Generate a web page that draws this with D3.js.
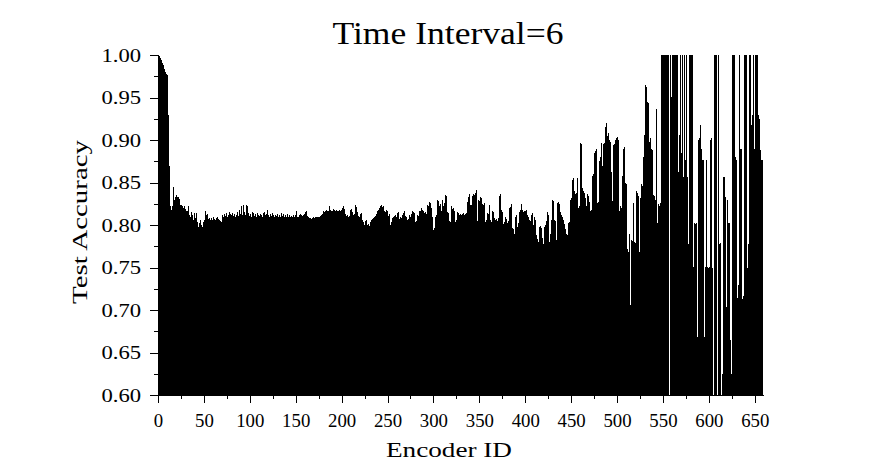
<!DOCTYPE html>
<html>
<head>
<meta charset="utf-8">
<script src="https://cdn.jsdelivr.net/npm/d3@7"></script>
<style>
  html, body { margin: 0; padding: 0; background: #fff; }
  svg { display: block; }
  text { font-family: "Liberation Serif", "DejaVu Serif", serif; fill: #000; }
</style>
</head>
<body>
<svg id="chart" width="886" height="473"></svg>
<script>
// ---- data ----
const chartTitle = "Time Interval=6";
const xLabel = "Encoder ID";
const yLabel = "Test Accuracy";
const xTicks = [0, 50, 100, 150, 200, 250, 300, 350, 400, 450, 500, 550, 600, 650];
const yTicks = [0.60, 0.65, 0.70, 0.75, 0.80, 0.85, 0.90, 0.95, 1.00];
const encoderCount = 659;
// test accuracy per encoder (Encoder ID 0..658)
const testAccuracy = [
  1.000, 0.999, 0.997, 0.994, 0.991, 0.988, 0.985, 0.983, 0.980, 0.978,
  0.976, 0.930, 0.870, 0.822, 0.818, 0.822, 0.845, 0.829, 0.835, 0.833,
  0.835, 0.833, 0.833, 0.831, 0.823, 0.823, 0.822, 0.820, 0.822, 0.819,
  0.814, 0.816, 0.816, 0.822, 0.812, 0.810, 0.815, 0.812, 0.806, 0.814,
  0.808, 0.814, 0.806, 0.804, 0.798, 0.802, 0.806, 0.800, 0.798, 0.803,
  0.806, 0.817, 0.812, 0.813, 0.809, 0.807, 0.808, 0.806, 0.808, 0.806,
  0.809, 0.807, 0.806, 0.808, 0.809, 0.807, 0.806, 0.808, 0.805, 0.803,
  0.812, 0.810, 0.813, 0.811, 0.814, 0.810, 0.812, 0.815, 0.813, 0.811,
  0.812, 0.814, 0.811, 0.813, 0.810, 0.812, 0.815, 0.811, 0.818, 0.813,
  0.822, 0.816, 0.812, 0.823, 0.815, 0.812, 0.823, 0.822, 0.814, 0.811,
  0.813, 0.810, 0.815, 0.812, 0.814, 0.811, 0.813, 0.810, 0.814, 0.812,
  0.811, 0.813, 0.812, 0.810, 0.814, 0.826, 0.815, 0.812, 0.813, 0.818,
  0.812, 0.810, 0.813, 0.811, 0.814, 0.812, 0.810, 0.812, 0.813, 0.811,
  0.813, 0.809, 0.812, 0.810, 0.814, 0.811, 0.813, 0.810, 0.812, 0.809,
  0.811, 0.813, 0.810, 0.812, 0.810, 0.811, 0.809, 0.812, 0.810, 0.812,
  0.816, 0.810, 0.811, 0.809, 0.812, 0.813, 0.812, 0.811, 0.812, 0.813,
  0.815, 0.816, 0.811, 0.810, 0.810, 0.808, 0.808, 0.807, 0.808, 0.809,
  0.808, 0.810, 0.809, 0.810, 0.810, 0.809, 0.812, 0.811, 0.812, 0.813,
  0.816, 0.815, 0.817, 0.818, 0.816, 0.817, 0.822, 0.818, 0.817, 0.818,
  0.817, 0.819, 0.818, 0.817, 0.818, 0.816, 0.817, 0.818, 0.817, 0.818,
  0.820, 0.823, 0.822, 0.819, 0.813, 0.811, 0.812, 0.810, 0.811, 0.818,
  0.819, 0.815, 0.812, 0.810, 0.813, 0.823, 0.821, 0.815, 0.811, 0.810,
  0.813, 0.814, 0.806, 0.804, 0.800, 0.801, 0.805, 0.806, 0.800, 0.801,
  0.799, 0.804, 0.806, 0.807, 0.808, 0.810, 0.811, 0.812, 0.813, 0.816,
  0.818, 0.820, 0.822, 0.823, 0.821, 0.822, 0.816, 0.815, 0.818, 0.817,
  0.812, 0.811, 0.813, 0.800, 0.803, 0.808, 0.810, 0.811, 0.812, 0.810,
  0.814, 0.815, 0.806, 0.807, 0.809, 0.808, 0.812, 0.814, 0.816, 0.811,
  0.810, 0.806, 0.807, 0.812, 0.811, 0.810, 0.813, 0.816, 0.815, 0.814,
  0.804, 0.805, 0.812, 0.811, 0.817, 0.816, 0.819, 0.820, 0.818, 0.816,
  0.814, 0.815, 0.813, 0.823, 0.822, 0.827, 0.826, 0.820, 0.819, 0.810,
  0.794, 0.796, 0.810, 0.812, 0.829, 0.828, 0.822, 0.825, 0.816, 0.829,
  0.822, 0.824, 0.826, 0.835, 0.834, 0.815, 0.814, 0.805, 0.804, 0.822,
  0.819, 0.820, 0.817, 0.815, 0.804, 0.806, 0.815, 0.814, 0.812, 0.813,
  0.812, 0.813, 0.814, 0.812, 0.813, 0.815, 0.814, 0.827, 0.833, 0.837,
  0.823, 0.824, 0.834, 0.836, 0.835, 0.838, 0.841, 0.808, 0.805, 0.829,
  0.828, 0.833, 0.832, 0.825, 0.824, 0.826, 0.804, 0.806, 0.814, 0.813,
  0.822, 0.823, 0.806, 0.804, 0.817, 0.815, 0.808, 0.806, 0.807, 0.805,
  0.808, 0.834, 0.841, 0.836, 0.818, 0.815, 0.801, 0.803, 0.810, 0.807,
  0.802, 0.805, 0.820, 0.821, 0.824, 0.825, 0.797, 0.795, 0.790, 0.810,
  0.812, 0.798, 0.802, 0.815, 0.818, 0.825, 0.822, 0.818, 0.815, 0.816,
  0.817, 0.818, 0.812, 0.810, 0.806, 0.805, 0.812, 0.814, 0.797, 0.800,
  0.810, 0.806, 0.788, 0.784, 0.780, 0.798, 0.799, 0.797, 0.785, 0.778,
  0.798, 0.799, 0.800, 0.805, 0.815, 0.812, 0.780, 0.790, 0.806, 0.829,
  0.828, 0.806, 0.805, 0.783, 0.782, 0.826, 0.827, 0.825, 0.815, 0.812,
  0.810, 0.806, 0.801, 0.795, 0.790, 0.786, 0.788, 0.802, 0.803, 0.830,
  0.832, 0.853, 0.855, 0.840, 0.837, 0.838, 0.855, 0.852, 0.820, 0.822,
  0.896, 0.895, 0.843, 0.840, 0.838, 0.832, 0.822, 0.836, 0.834, 0.829,
  0.827, 0.816, 0.818, 0.858, 0.860, 0.885, 0.887, 0.890, 0.826, 0.827,
  0.875, 0.880, 0.878, 0.896, 0.870, 0.895, 0.897, 0.915, 0.920, 0.905,
  0.908, 0.900, 0.898, 0.862, 0.830, 0.828, 0.894, 0.895, 0.900, 0.902,
  0.903, 0.900, 0.816, 0.822, 0.820, 0.858, 0.862, 0.890, 0.892, 0.850,
  0.848, 0.772, 0.768, 0.790, 0.706, 0.782, 0.781, 0.826, 0.825, 0.780,
  0.779, 0.840, 0.838, 0.834, 0.768, 0.832, 0.848, 0.846, 0.880, 0.906,
  0.908, 0.965, 0.962, 0.945, 0.943, 0.898, 0.902, 0.890, 0.888, 0.835,
  0.834, 0.830, 0.937, 0.935, 0.802, 0.825, 0.822, 0.826, 1.000, 1.000,
  1.000, 1.000, 1.000, 1.000, 1.000, 1.000, 1.000, 0.600, 1.000, 0.951,
  1.000, 1.000, 1.000, 1.000, 1.000, 1.000, 0.862, 0.848, 0.906, 1.000,
  0.885, 1.000, 0.856, 1.000, 0.876, 1.000, 0.857, 0.778, 1.000, 1.000,
  1.000, 1.000, 1.000, 0.751, 0.802, 0.801, 0.802, 0.668, 0.900, 0.902,
  0.918, 0.920, 0.890, 0.876, 0.876, 0.668, 0.751, 0.876, 0.751, 0.750,
  0.751, 0.900, 0.902, 0.750, 0.778, 0.600, 1.000, 1.000, 1.000, 0.600,
  1.000, 0.778, 0.779, 0.600, 0.625, 0.857, 0.837, 0.857, 0.833, 0.704,
  0.830, 0.802, 0.802, 0.665, 0.625, 1.000, 1.000, 1.000, 0.876, 0.880,
  0.876, 0.714, 0.730, 1.000, 0.890, 0.889, 0.713, 0.716, 1.000, 1.000,
  0.605, 1.000, 0.750, 0.778, 1.000, 1.000, 0.918, 0.930, 1.000, 0.890,
  1.000, 1.000, 1.000, 1.000, 0.930, 0.925, 0.888, 0.876, 0.876
];
const encoderIds = d3.range(testAccuracy.length);

// ---- layout ----
const svg = d3.select("#chart");
const plot = { left: 158, right: 763, top: 55, bottom: 395 };
const fontFamily = '"Liberation Serif", "DejaVu Serif", serif';

const x = d3.scaleLinear().domain([0, encoderCount]).range([plot.left, plot.right]);
const y = d3.scaleLinear().domain([0.6, 1.0]).range([plot.bottom, plot.top]);

// bars
svg.append("g")
  .selectAll("rect")
  .data(encoderIds)
  .join("rect")
  .attr("x", i => x(i))
  .attr("width", i => x(i + 1) - x(i))
  .attr("y", i => y(Math.min(1, testAccuracy[i])))
  .attr("height", i => y(0.6) - y(Math.min(1, testAccuracy[i])))
  .attr("fill", "#000")
  .attr("shape-rendering", "crispEdges");

// axes
function styleAxis(g) {
  g.selectAll("path, line").attr("stroke", "#000").attr("stroke-width", 1).attr("shape-rendering", "crispEdges");
}

const xMinor = d3.range(25, 660, 50);
const yMinor = d3.range(0, 8).map(k => 0.625 + k * 0.05);

svg.append("g")
  .attr("transform", `translate(0,${plot.bottom})`)
  .call(d3.axisBottom(x).tickValues(xMinor).tickSize(4).tickSizeOuter(0).tickFormat(""))
  .call(styleAxis);

const gx = svg.append("g")
  .attr("transform", `translate(0,${plot.bottom})`)
  .call(d3.axisBottom(x).tickValues(xTicks).tickSize(8).tickSizeOuter(0).tickPadding(11).tickFormat(d3.format("d")))
  .call(styleAxis);
gx.selectAll("text")
  .style("font-family", fontFamily)
  .style("font-size", "19px")
  .attr("textLength", d => String(d).length * 9.4)
  .attr("lengthAdjust", "spacingAndGlyphs");

svg.append("g")
  .attr("transform", `translate(${plot.left},0)`)
  .call(d3.axisLeft(y).tickValues(yMinor).tickSize(4).tickSizeOuter(0).tickFormat(""))
  .call(styleAxis);

const gy = svg.append("g")
  .attr("transform", `translate(${plot.left},0)`)
  .call(d3.axisLeft(y).tickValues(yTicks).tickSize(8).tickSizeOuter(0).tickPadding(9).tickFormat(d3.format(".2f")))
  .call(styleAxis);
gy.selectAll("text")
  .style("font-family", fontFamily)
  .style("font-size", "19px")
  .attr("textLength", d => d3.format(".2f")(d).length * 9.9)
  .attr("lengthAdjust", "spacingAndGlyphs");

// titles
svg.append("text")
  .attr("x", 448).attr("y", 44)
  .attr("text-anchor", "middle")
  .style("font-family", fontFamily)
  .style("font-size", "31px")
  .attr("textLength", 231).attr("lengthAdjust", "spacingAndGlyphs")
  .text(chartTitle);

svg.append("text")
  .attr("x", 449).attr("y", 457)
  .attr("text-anchor", "middle")
  .style("font-family", fontFamily)
  .style("font-size", "22px")
  .attr("textLength", 126).attr("lengthAdjust", "spacingAndGlyphs")
  .text(xLabel);

svg.append("text")
  .attr("transform", "translate(87,222) rotate(-90)")
  .attr("text-anchor", "middle")
  .style("font-family", fontFamily)
  .style("font-size", "22px")
  .attr("textLength", 164).attr("lengthAdjust", "spacingAndGlyphs")
  .text(yLabel);
</script>
</body>
</html>
